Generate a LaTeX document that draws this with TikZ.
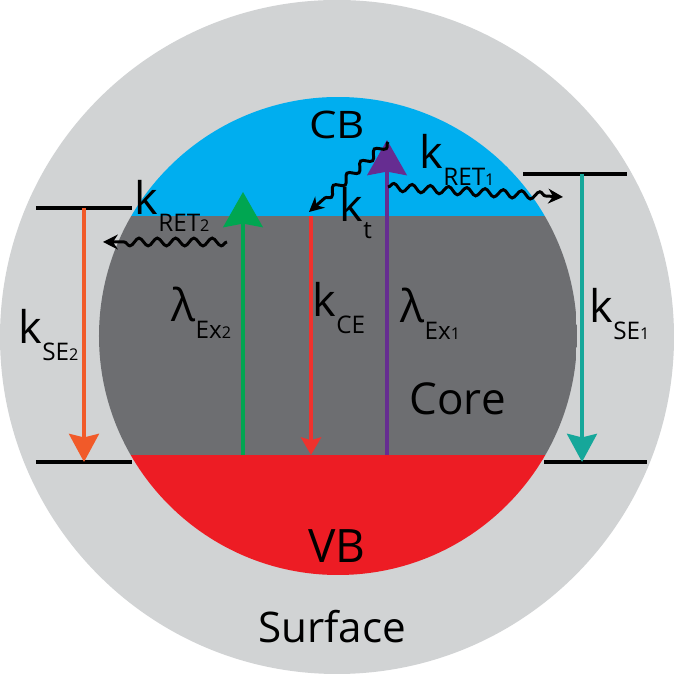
\documentclass[tikz,border=0pt]{standalone}
\usepackage{fontspec}
\setmainfont{Open Sans}
\usetikzlibrary{arrows.meta}
\usetikzlibrary{decorations.pathmorphing}
\definecolor{surfgray}{RGB}{209, 211, 212}
\definecolor{cbblue}{RGB}{0, 174, 239}
\definecolor{coregray}{RGB}{109, 110, 113}
\definecolor{vbred}{RGB}{237, 28, 36}
\definecolor{seorange}{RGB}{241, 90, 41}
\definecolor{exgreen}{RGB}{0, 166, 81}
\definecolor{cered}{RGB}{239, 50, 45}
\definecolor{expurple}{RGB}{102, 45, 145}
\definecolor{seteal}{RGB}{22, 167, 154}
\newcommand{\mainsize}{\fontsize{12.8}{14}\selectfont}
\newcommand{\subsize}{\fontsize{6.9}{8}\selectfont}
\newcommand{\digsize}{\fontsize{4.6}{5}\selectfont}
\newcommand{\rate}[3]{#1\raisebox{-4.8pt}{\subsize #2\digsize #3}}
\tikzset{
  lbl/.style={font=\mainsize, inner sep=0pt, anchor=base west},
  level/.style={black, line width=1.15pt},
  upex/.style={line width=1.15pt, -{Stealth[length=10pt, width=11.2pt, inset=1pt]}},
  downse/.style={line width=1.1pt, -{Stealth[length=8pt, width=8.5pt, inset=1pt]}},
  downce/.style={line width=1.1pt, -{Stealth[length=5pt, width=5.7pt, inset=0.8pt]}},
  wavy/.style={black, line width=0.85pt, decorate,
    decoration={snake, amplitude=1.1pt, segment length=5.2pt, post length=3.5pt},
    -{Stealth[length=4.2pt, width=4.2pt]}}
}
\begin{document}
\begin{tikzpicture}
    \useasboundingbox (-3.37, -3.37) rectangle ( 3.37,  3.37);
    \fill[surfgray] ( 0.00,  0.00) circle (3.37);
    \begin{scope}
        \clip ( 0.01,  0.01) circle (2.39);
        \fill[cbblue]   (-2.40,  1.21) rectangle ( 2.40,  2.40);
        \fill[coregray] (-2.40, -1.18) rectangle ( 2.40,  1.21);
        \fill[vbred]    (-2.40, -2.40) rectangle ( 2.40, -1.18);
    \end{scope}
    % levels
    \coordinate (ltopA) at (-3.01,  1.29);
    \coordinate (ltopB) at (-2.05,  1.29);
    \coordinate (lbotA) at (-3.01, -1.25);
    \coordinate (lbotB) at (-2.05, -1.25);
    \coordinate (rtopA) at ( 1.86,  1.63);
    \coordinate (rtopB) at ( 2.90,  1.63);
    \coordinate (rbotA) at ( 2.07, -1.25);
    \coordinate (rbotB) at ( 3.10, -1.25);
    \draw[level] (ltopA) -- (ltopB);
    \draw[level] (lbotA) -- (lbotB);
    \draw[level] (rtopA) -- (rtopB);
    \draw[level] (rbotA) -- (rbotB);
    % transitions
    \coordinate (seTwoA) at (-2.53,  1.29);
    \coordinate (seTwoB) at (-2.53, -1.25);
    \coordinate (seOneA) at ( 2.45,  1.63);
    \coordinate (seOneB) at ( 2.45, -1.25);
    \coordinate (exTwoA) at (-0.94, -1.18);
    \coordinate (exTwoB) at (-0.94,  1.45);
    \coordinate (ceA)    at (-0.26,  1.21);
    \coordinate (ceB)    at (-0.26, -1.18);
    \coordinate (exOneA) at ( 0.50, -1.18);
    \coordinate (exOneB) at ( 0.50,  1.97);
    \draw[seorange, downse] (seTwoA) -- (seTwoB);
    \draw[seteal,   downse] (seOneA) -- (seOneB);
    \draw[exgreen,  upex]   (exTwoA) -- (exTwoB);
    \draw[cered,    downce] (ceA)    -- (ceB);
    \draw[expurple, upex]   (exOneA) -- (exOneB);
    % energy transfer
    \coordinate (retTwoA) at (-1.10,  0.95);
    \coordinate (retTwoB) at (-2.34,  0.95);
    \coordinate (retOneA) at ( 0.51,  1.50);
    \coordinate (retOneB) at ( 2.26,  1.40);
    \coordinate (trapA)   at ( 0.51,  1.95);
    \coordinate (trapB)   at (-0.28,  1.25);
    \draw[wavy] (retTwoA) -- (retTwoB);
    \draw[wavy] (retOneA) -- (retOneB);
    \draw[wavy] (trapA)   -- (trapB);
    % labels
    \node[lbl, anchor=base, font=\fontsize{10.8}{12}\selectfont] (cb) at ( 0.00,  1.98) {\scalebox{1.15}[1]{CB}};
    \node[lbl] (kt)      at ( 0.02,  1.15) {\rate{k}{t}{}};
    \node[lbl] (kretone) at ( 0.82,  1.68) {\rate{k}{RET}{1}};
    \node[lbl] (krettwo) at (-2.03,  1.22) {\rate{k}{RET}{2}};
    \node[lbl] (ksetwo)  at (-3.19, -0.07) {\rate{k}{SE}{2}};
    \node[lbl] (lextwo)  at (-1.66,  0.15) {\rate{λ}{Ex}{2}};
    \node[lbl] (kce)     at (-0.25,  0.20) {\rate{k}{CE}{}};
    \node[lbl] (lexone)  at ( 0.63,  0.14) {\rate{λ}{Ex}{1}};
    \node[lbl] (kseone)  at ( 2.52,  0.14) {\rate{k}{SE}{1}};
    \node[lbl, font=\fontsize{12.5}{14}\selectfont] (core) at ( 0.72, -0.78) {Core};
    \node[lbl, anchor=base, font=\fontsize{13.1}{15}\selectfont] (vb) at ( 0.00, -2.26) {VB};
    \node[lbl, anchor=base, font=\fontsize{12}{14}\selectfont] (surface) at (-0.05, -3.05) {Surface};
\end{tikzpicture}
\end{document}
